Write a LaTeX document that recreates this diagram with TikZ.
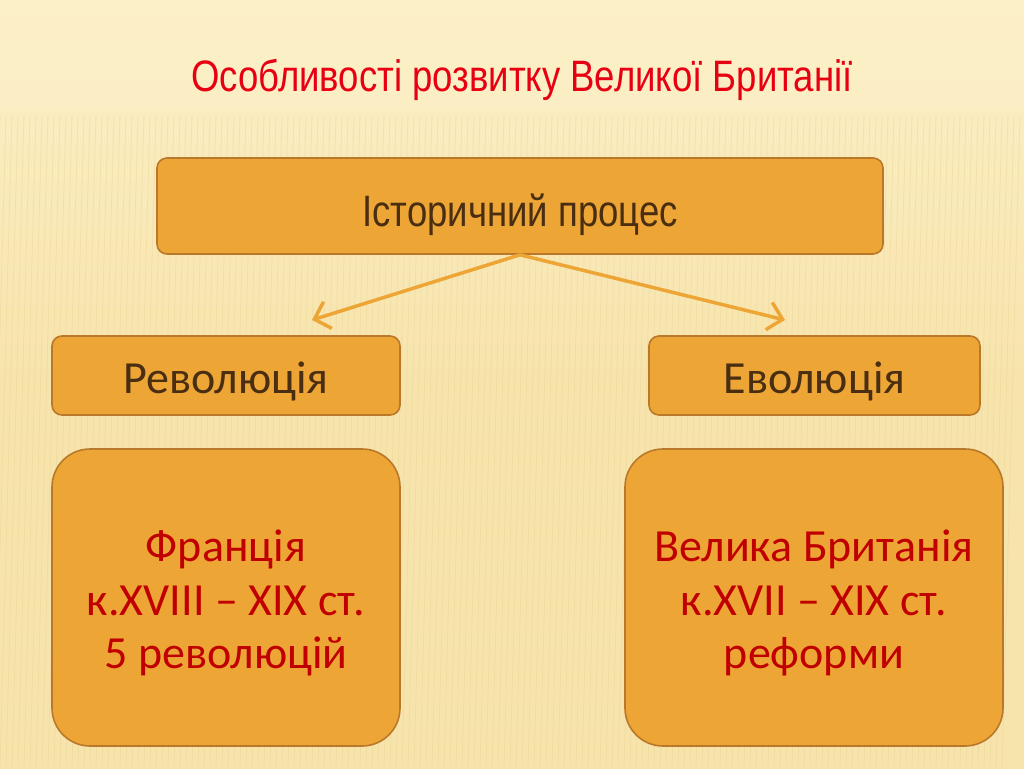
\documentclass[tikz,border=0pt]{standalone}
\usepackage{fontspec}
\setmainfont{Carlito}
\newfontfamily\narrowfont[FakeStretch=0.83]{Liberation Sans}
\usetikzlibrary{arrows.meta}
\definecolor{bgtop}{HTML}{FCF0C8}
\definecolor{bgmid}{HTML}{F7E4AC}
\definecolor{stripe}{HTML}{E8CF8A}
\definecolor{boxfill}{HTML}{EDA535}
\definecolor{boxline}{HTML}{B9782A}
\definecolor{darktext}{HTML}{4A2E12}
\definecolor{redtext}{HTML}{C00000}
\definecolor{titlered}{HTML}{E60012}
\definecolor{arrowc}{HTML}{EDA535}
\tikzset{
  x=1pt,y=-1pt,
  smallbox/.style={draw=boxline,line width=1.6pt,fill=boxfill,rounded corners=10pt,inner sep=0pt},
  bigbox/.style={draw=boxline,line width=1.6pt,fill=boxfill,rounded corners=38pt,inner sep=0pt},
  link/.style={draw=arrowc,line width=3.5pt,-{Straight Barb[length=14pt,width=28pt,line width=3.5pt]}},
  dtext/.style={text=darktext,anchor=base,inner sep=0pt},
  rtext/.style={text=redtext,anchor=base,inner sep=0pt,font=\fontsize{46}{54}\selectfont},
}
\begin{document}
\begin{tikzpicture}
\useasboundingbox (0,0) rectangle (1024,768);
\shade[top color=bgtop,bottom color=bgmid,middle color=bgmid] (0,0) rectangle (1024,768);
\fill[bgtop,opacity=0.6] (0,0) rectangle (1024,110);
\foreach \i in {0,6,...,1024} {
  \draw[stripe,line width=0.8pt,opacity=0.35] (\i,115) -- (\i-18,768);
}
% title
\node[text=titlered,anchor=base,inner sep=0pt,font=\narrowfont\fontsize{44}{50}\selectfont] (title) at (522,91) {Особливості розвитку Великої Британії};
% top box
\node[smallbox,minimum width=726pt,minimum height=96pt] (proc) at (520,206) {};
\node[dtext,font=\narrowfont\fontsize{44}{50}\selectfont] (proct) at (520,226) {Історичний процес};
% level 2
\node[smallbox,minimum width=348pt,minimum height=79pt] (rev) at (226,375.5) {};
\node[dtext,font=\fontsize{46}{54}\selectfont] (revt) at (226,393) {Революція};
\node[smallbox,minimum width=331pt,minimum height=79pt] (evo) at (814.5,375.5) {};
\node[dtext,font=\fontsize{46}{54}\selectfont] (evot) at (814.5,393) {Еволюція};
% level 3
\node[bigbox,minimum width=348pt,minimum height=297pt] (fr) at (226,597.5) {};
\node[rtext] (fr1) at (226,561) {Франція};
\node[rtext] (fr2) at (226,615) {к.XVIII – XIX ст.};
\node[rtext] (fr3) at (226,668) {5 революцій};
\node[bigbox,minimum width=378pt,minimum height=297pt] (gb) at (814,597.5) {};
\node[rtext] (gb1) at (814,561) {Велика Британія};
\node[rtext] (gb2) at (814,615) {к.XVII – XIX ст.};
\node[rtext] (gb3) at (814,668) {реформи};
% arrows
\coordinate (s) at (proc.south);
\coordinate (l) at (312,320);
\coordinate (r) at (785,320);
\draw[link] (s) -- (l);
\draw[link] (s) -- (r);
\end{tikzpicture}
\end{document}
